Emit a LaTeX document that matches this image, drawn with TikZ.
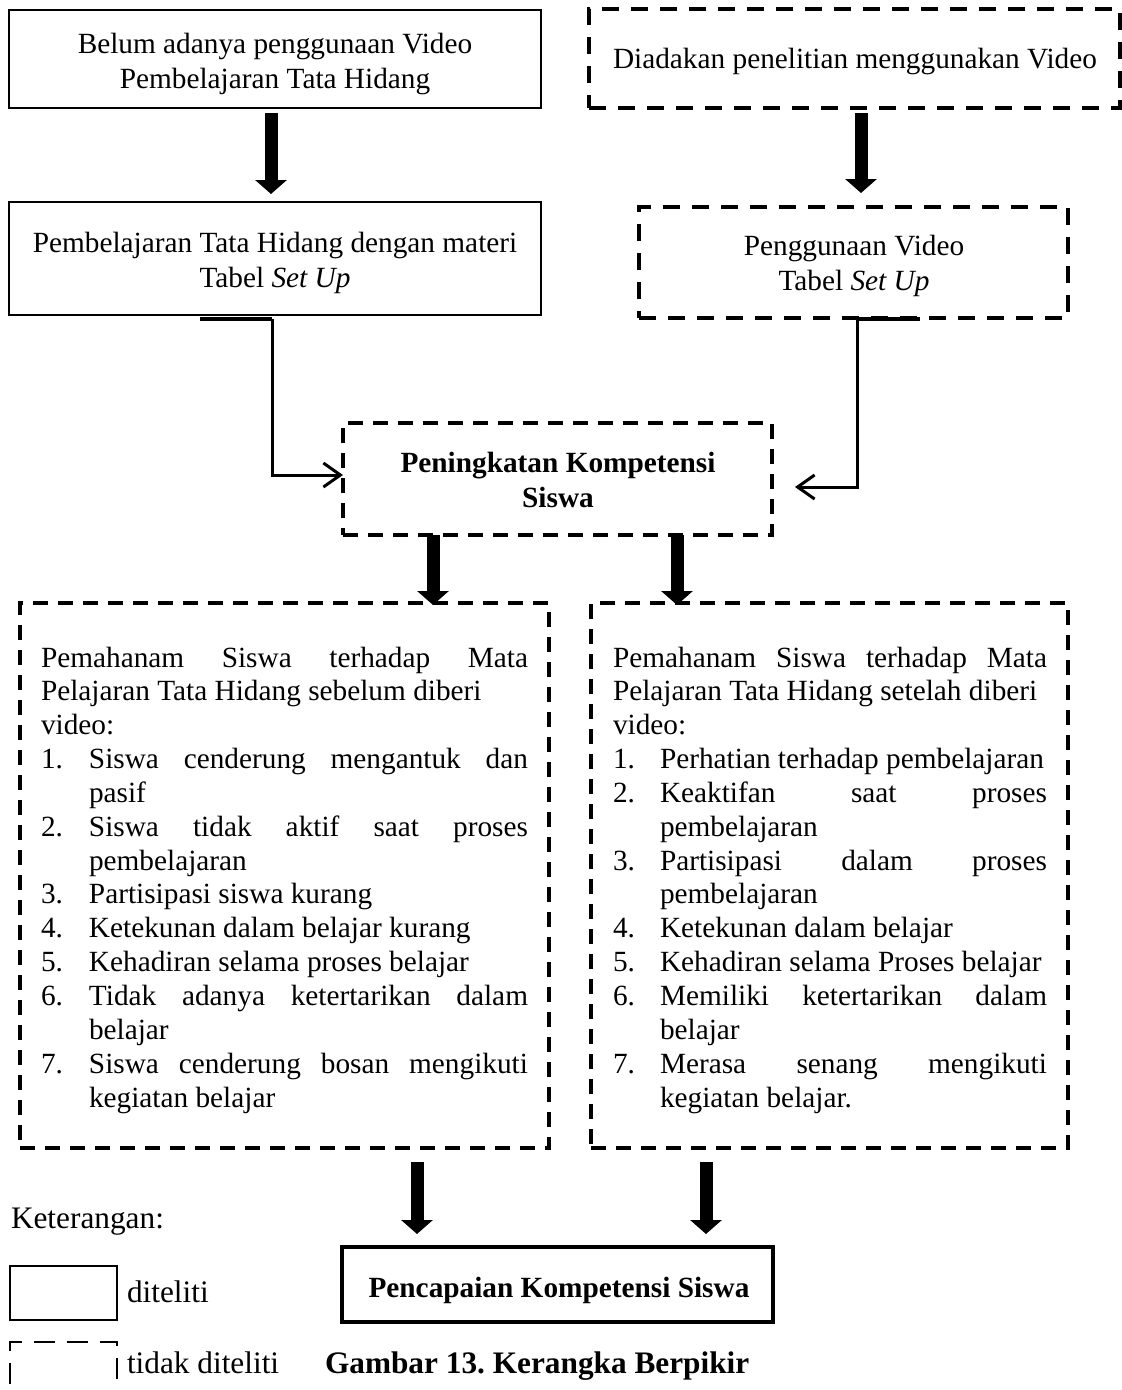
\documentclass[tikz,border=0pt]{standalone}
\usepackage{fontspec}
\setmainfont{Liberation Serif}
\usetikzlibrary{arrows.meta}
\frenchspacing
\newlength\numw
\setlength\numw{47.5pt}
\newcommand\jline[1]{\hbox to \hsize{\spaceskip=0.25em plus 1fil\relax #1}}
\newcommand\rline[1]{\hbox to \hsize{#1\hfil}}
\newcommand\nb[1]{\hbox to \numw{#1\hfil}}
\newcommand\ind{\hskip\numw}
\newcommand\mainsize{\fontsize{29.3pt}{35pt}\selectfont}
\newcommand\listsize{\fontsize{29.3pt}{33.85pt}\selectfont}
\newcommand\legsize{\fontsize{31.3pt}{36pt}\selectfont}
\newcommand\ctr[2]{\parbox[t]{#1}{\centering\mainsize #2}}
\begin{document}
\begin{tikzpicture}[x=1pt,y=-1pt,
  every node/.style={inner sep=0pt, outer sep=0pt},
  sbox/.style={draw, line width=2.8pt},
  dbox/.style={draw, line width=3.2pt, dash pattern=on 15pt off 10pt},
  dboxl/.style={draw, line width=3.4pt, dash pattern=on 17pt off 12pt},
  txt/.style={anchor=base},
  fat/.style={line width=13pt, -{Triangle[width=31pt,length=14pt]}},
  conn/.style={line width=3pt, -{Straight Barb[length=17pt,width=24pt]}},
  stub/.style={line width=4.5pt},
]
\useasboundingbox (0,0) rectangle (1122,1390);

% top left column
\node[sbox, minimum width=532pt, minimum height=98pt] (A) at (275,59) {};
\node[txt] (At) at (275,53) {\ctr{520pt}{Belum adanya penggunaan Video\\Pembelajaran Tata Hidang}};
\node[sbox, minimum width=532pt, minimum height=113pt] (B) at (275,258.5) {};
\node[txt] (Bt) at (275,252) {\ctr{520pt}{Pembelajaran Tata Hidang dengan materi\\Tabel \textit{Set Up}}};

% top right column
\node[dboxl, minimum width=531pt, minimum height=99pt] (C) at (854.5,58.5) {};
\node[txt] (Ct) at (855,68) {\ctr{520pt}{Diadakan penelitian menggunakan Video}};
\node[dboxl, minimum width=429pt, minimum height=111pt] (D) at (853.5,262.5) {};
\node[txt] (Dt) at (854,255) {\ctr{420pt}{Penggunaan Video\\Tabel \textit{Set Up}}};

% middle
\node[dbox, minimum width=429pt, minimum height=112pt] (E) at (557.5,479) {};
\node[txt] (Et) at (558,472) {\ctr{420pt}{\bfseries Peningkatan Kompetensi\\Siswa}};

% bottom boxes
\node[dbox, minimum width=529pt, minimum height=545pt] (F) at (284.5,875.5) {};
\node[anchor=base west] (Ft) at (41,667) {\parbox[t]{487pt}{\listsize\setlength\numw{48pt}%
\jline{Pemahanam Siswa terhadap Mata}
\rline{Pelajaran Tata Hidang sebelum diberi}
\rline{video:}
\jline{\nb{1.}Siswa cenderung mengantuk dan}
\rline{\ind pasif}
\jline{\nb{2.}Siswa tidak aktif saat proses}
\rline{\ind pembelajaran}
\rline{\nb{3.}Partisipasi siswa kurang}
\rline{\nb{4.}Ketekunan dalam belajar kurang}
\rline{\nb{5.}Kehadiran selama proses belajar}
\jline{\nb{6.}Tidak adanya ketertarikan dalam}
\rline{\ind belajar}
\jline{\nb{7.}Siswa cenderung bosan mengikuti}
\rline{\ind kegiatan belajar}}};

\node[dbox, minimum width=477pt, minimum height=545pt] (G) at (829.5,875.5) {};
\node[anchor=base west] (Gt) at (613,667) {\parbox[t]{434pt}{\listsize\setlength\numw{47pt}%
\jline{Pemahanam Siswa terhadap Mata}
\rline{Pelajaran Tata Hidang setelah diberi}
\rline{video:}
\rline{\nb{1.}Perhatian terhadap pembelajaran}
\jline{\nb{2.}Keaktifan saat proses}
\rline{\ind pembelajaran}
\jline{\nb{3.}Partisipasi dalam proses}
\rline{\ind pembelajaran}
\rline{\nb{4.}Ketekunan dalam belajar}
\rline{\nb{5.}Kehadiran selama Proses belajar}
\jline{\nb{6.}Memiliki ketertarikan dalam}
\rline{\ind belajar}
\jline{\nb{7.}Merasa senang mengikuti}
\rline{\ind kegiatan belajar.}}};

% final box
\node[draw, line width=4.8pt, minimum width=431pt, minimum height=75pt] (H) at (557.5,1284.5) {};
\node[txt] (Ht) at (559,1297) {\ctr{420pt}{\bfseries Pencapaian Kompetensi Siswa}};

% legend
\node[anchor=base west, font=\legsize] (K) at (11,1228) {Keterangan:};
\node[draw, line width=2pt, minimum width=107pt, minimum height=54pt] (L1) at (63,1293) {};
\node[anchor=base west, font=\legsize] (L1t) at (127,1302) {diteliti};
\begin{scope}
\clip (0,0) rectangle (1122,1390);
\node[draw, line width=2pt, dash pattern=on 21pt off 12pt, minimum width=107pt, minimum height=62pt] (L2) at (63,1373) {};
\end{scope}
\node[anchor=base west, font=\legsize] (L2t) at (127,1373) {tidak diteliti};
\node[anchor=base west, font=\legsize\bfseries] (Cap) at (325,1373) {Gambar 13. Kerangka Berpikir};

% thick arrows
\draw[fat] ([xshift=-4pt,yshift=-5pt]A.south) -- ([xshift=-4pt,yshift=8pt]B.north);
\draw[fat] ([xshift=6.5pt,yshift=-5pt]C.south) -- ([xshift=7.5pt,yshift=14pt]D.north);
\draw[fat] ([xshift=-124.5pt]E.south) -- ([xshift=148.5pt,yshift=-2pt]F.north);
\draw[fat] ([xshift=119.5pt]E.south) -- ([xshift=-152.5pt,yshift=-2pt]G.north);
\draw[fat] ([xshift=132.5pt,yshift=-14pt]F.south) -- ([xshift=-140.5pt,yshift=13pt]H.north);
\draw[fat] ([xshift=-123.5pt,yshift=-14pt]G.south) -- ([xshift=148.5pt,yshift=13pt]H.north);

% connectors into E
\coordinate (l0) at ([xshift=-75pt,yshift=-4pt]B.south);
\coordinate (l1) at ([xshift=-3pt,yshift=-4pt]B.south);
\draw[stub] (l0) -- (l1);
\draw[conn] (l1) |- ([yshift=4pt]E.west);
\coordinate (r0) at ([xshift=66.5pt,yshift=-1pt]D.south);
\coordinate (r1) at ([xshift=3.5pt,yshift=-1pt]D.south);
\draw[line width=3.4pt] (r0) -- (r1);
\draw[conn] (r1) |- ([xshift=23pt,yshift=-8pt]E.east);
\end{tikzpicture}
\end{document}
